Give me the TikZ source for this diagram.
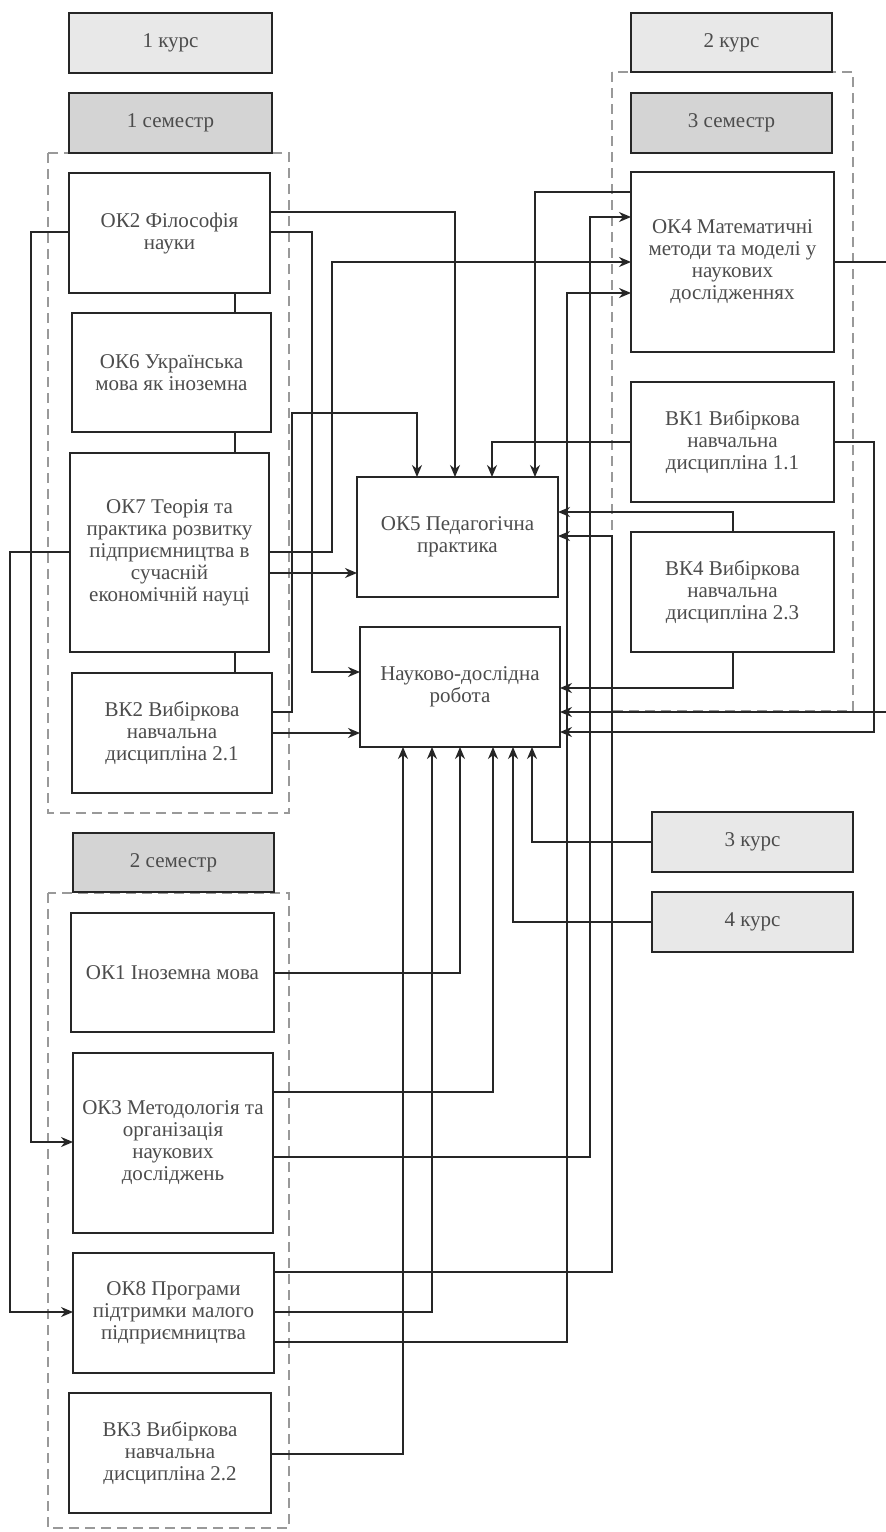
\documentclass[tikz,border=0pt]{standalone}
\usepackage{fontspec}
\setmainfont{Liberation Serif}
\usetikzlibrary{arrows.meta}
\newcommand\bx[7][]{%
  \pgfmathsetmacro\bxcx{(#3+#5)/2}%
  \pgfmathsetmacro\bxcy{(#4+#6)/2}%
  \pgfmathsetmacro\bxw{(#5-#3)*0.5}%
  \pgfmathsetmacro\bxh{(#6-#4)*0.5}%
  \node[box,#1,minimum width=\bxw pt,minimum height=\bxh pt] (#2) at (\bxcx,\bxcy) {#7};}
\begin{document}
\begin{tikzpicture}[x=0.5pt,y=-0.5pt,
  box/.style={draw=black!85,line width=0.9pt,fill=white,inner sep=0pt,outer sep=0pt,
    align=center,text=black!70,font=\fontsize{10.5}{11}\selectfont},
  kurs/.style={fill=black!9},
  sem/.style={fill=black!17},
  arr/.style={draw=black!85,line width=0.75pt,-{Stealth[length=6pt,width=5pt]}},
  ln/.style={draw=black!85,line width=0.75pt},
  grp/.style={draw=black!40,line width=1.1pt,dash pattern=on 5pt off 3pt}]
\fill[white] (0,0) rectangle (885,1532);
\useasboundingbox (0,0) rectangle (885,1532);
% channel coordinates
\foreach \y in {192,212,217,232,262,293,413,512,536,552,573,672,688,712,732,733,973,1092,1142,1157,1272,1312,1342,1454}
  {\coordinate (h\y) at (0,\y);}
\foreach \x in {10,31,235,292,312,332,403,417,432,455,460,492,493,513,532,535,567,590,612,733,874,895}
  {\coordinate (v\x) at (\x,0);}
% group frames
\draw[grp] (48,153) rectangle (289,813);
\draw[grp] (48,893) rectangle (289,1528);
\draw[grp] (612,72) rectangle (853,711);
% left column
\bx[kurs]{k1}{69}{13}{272}{73}{1 курс}
\bx[sem]{s1}{69}{93}{272}{153}{1 семестр}
\bx{ok2}{69}{173}{270}{293}{ОК2 Філософія\\науки}
\bx{ok6}{72}{313}{271}{432}{ОК6 Українська\\мова як іноземна}
\bx{ok7}{70}{453}{269}{652}{ОК7 Теорія та\\практика розвитку\\підприємництва в\\сучасній\\економічній науці}
\bx{bk2}{72}{673}{272}{793}{ВК2 Вибіркова\\навчальна\\дисципліна 2.1}
\bx[sem]{s2}{73}{833}{274}{892}{2 семестр}
\bx{ok1}{71}{913}{274}{1032}{ОК1 Іноземна мова}
\bx{ok3}{73}{1053}{273}{1233}{ОК3 Методологія та\\організація\\наукових\\досліджень}
\bx{ok8}{73}{1253}{274}{1373}{ОК8 Програми\\підтримки малого\\підприємництва}
\bx{bk3}{69}{1393}{271}{1513}{ВК3 Вибіркова\\навчальна\\дисципліна 2.2}
% right column
\bx[kurs]{k2}{631}{13}{832}{72}{2 курс}
\bx[sem]{s3}{631}{93}{832}{153}{3 семестр}
\bx{ok4}{631}{172}{834}{352}{ОК4 Математичні\\методи та моделі у\\наукових\\дослідженнях}
\bx{bk1}{631}{382}{834}{502}{ВК1 Вибіркова\\навчальна\\дисципліна 1.1}
\bx{bk4}{631}{532}{834}{652}{ВК4 Вибіркова\\навчальна\\дисципліна 2.3}
\bx[kurs]{k3}{652}{812}{853}{872}{3 курс}
\bx[kurs]{k4}{652}{892}{853}{952}{4 курс}
% centre
\bx{ok5}{357}{477}{558}{597}{ОК5 Педагогічна\\практика}
\bx{ndr}{360}{627}{560}{747}{Науково-дослідна\\робота}
% chain lines in semester 1
\draw[ln] (ok2.south -| v235) -- (ok6.north -| v235);
\draw[ln] (ok6.south -| v235) -- (ok7.north -| v235);
\draw[ln] (ok7.south -| v235) -- (bk2.north -| v235);
% connectors from semester 1
\draw[arr] (ok2.east |- h212) -| (ok5.north -| v455);
\draw[arr] (ok2.east |- h232) -| (v312 |- h672) -- (ndr.west |- h672);
\draw[arr] (ok7.east |- h552) -| (v332 |- h262) -- (ok4.west |- h262);
\draw[arr] (ok7.east |- h573) -- (ok5.west |- h573);
\draw[arr] (bk2.east |- h712) -| (v292 |- h413) -| (ok5.north -| v417);
\draw[arr] (bk2.east |- h733) -- (ndr.west |- h733);
\draw[arr] (ok2.west |- h232) -| (v31 |- h1142) -- (ok3.west |- h1142);
\draw[arr] (ok7.west |- h552) -| (v10 |- h1312) -- (ok8.west |- h1312);
% connectors from semester 2
\draw[arr] (ok1.east |- h973) -| (ndr.south -| v460);
\draw[arr] (ok3.east |- h1092) -| (ndr.south -| v493);
\draw[arr] (ok3.east |- h1157) -| (v590 |- h217) -- (ok4.west |- h217);
\draw[arr] (ok8.east |- h1272) -| (v612 |- h536) -- (ok5.east |- h536);
\draw[arr] (ok8.east |- h1312) -| (ndr.south -| v432);
\draw[arr] (ok8.east |- h1342) -| (v567 |- h293) -- (ok4.west |- h293);
\draw[arr] (bk3.east |- h1454) -| (ndr.south -| v403);
% courses 3 and 4
\draw[arr] (k3.west) -| (ndr.south -| v532);
\draw[arr] (k4.west) -| (ndr.south -| v513);
% connectors from semester 3
\draw[arr] (ok4.west |- h192) -| (ok5.north -| v535);
\draw[arr] (bk1.west) -| (ok5.north -| v492);
\draw[arr] (bk4.north -| v733) |- (ok5.east |- h512);
\draw[arr] (bk4.south -| v733) |- (ndr.east |- h688);
\draw[arr] (ok4.east) -| (v895 |- h712) -- (ndr.east |- h712);
\draw[arr] (bk1.east) -| (v874 |- h732) -- (ndr.east |- h732);
\end{tikzpicture}
\end{document}
